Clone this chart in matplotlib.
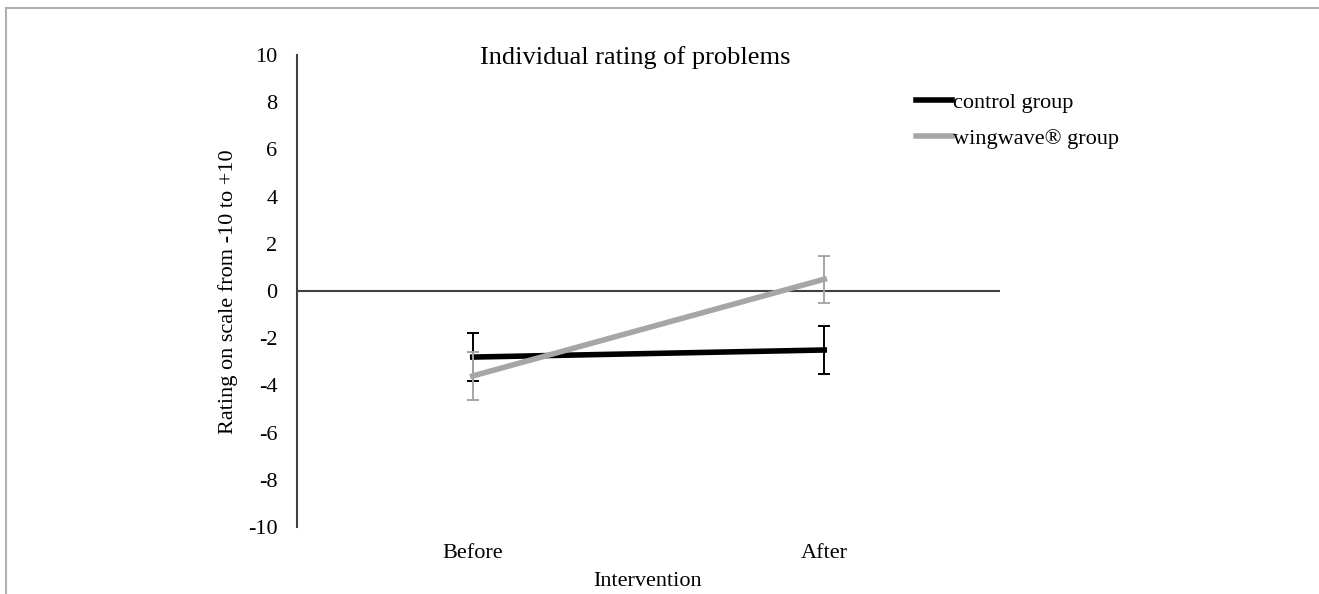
import numpy as np
import matplotlib.pyplot as plt
from matplotlib.lines import Line2D

plt.rcParams['font.family'] = ['Liberation Serif', 'DejaVu Serif']

categories = ['Before', 'After']
control = [-2.8, -2.5]
control_err = [1.0, 1.0]
wingwave = [-3.6, 0.5]
wingwave_err = [1.0, 1.0]
yticks = np.arange(-10, 11, 2)

fig = plt.figure(figsize=(13.19, 5.94), dpi=100)
ax = fig.add_axes([297/1319, 1 - 527/594, 703/1319, 472/594])

x = np.arange(len(categories))
ax.errorbar(x, control, yerr=control_err, color='black', lw=4, elinewidth=1.4,
            capsize=4, capthick=1.4, label='control group', zorder=3)
ax.errorbar(x, wingwave, yerr=wingwave_err, color='#a6a6a6', lw=4, elinewidth=1.4,
            capsize=4, capthick=1.4, label='wingwave® group', zorder=4)

ax.set_xlim(-0.5, 1.5)
ax.set_ylim(-10, 10)
ax.set_yticks(yticks)
ax.set_yticklabels([str(v) for v in yticks], fontsize=16)
ax.set_xticks(x)
ax.set_xticklabels(categories, fontsize=16)
ax.tick_params(axis='both', length=0)
ax.tick_params(axis='y', pad=14)
ax.tick_params(axis='x', pad=0)
for s in ['top', 'right', 'bottom']:
    ax.spines[s].set_visible(False)
ax.spines['left'].set_color('#404040')
ax.spines['left'].set_linewidth(1.5)
ax.axhline(0, color='#404040', lw=1.5, zorder=2)

# move category labels below the plot
for lbl in ax.get_xticklabels():
    lbl.set_y(-0.035)

fig.text(228/1319, 1 - 292/594, 'Rating on scale from -10 to +10', fontsize=16,
         rotation=90, ha='center', va='center')
fig.text(648/1319, 1 - 582/594, 'Intervention', fontsize=16, ha='center', va='center')
fig.text(635/1319, 1 - 58/594, 'Individual rating of problems', fontsize=19,
         ha='center', va='center')

handles, labels = ax.get_legend_handles_labels()
handles = [Line2D([], [], color='black', lw=4), Line2D([], [], color='#a6a6a6', lw=4)]
ax.legend(handles, labels, loc='upper left', bbox_to_anchor=(916/1319, 1 - 92/594),
          bbox_transform=fig.transFigure, frameon=False, fontsize=16,
          handlelength=1.6, handletextpad=0.05, labelspacing=0.7, borderaxespad=0,
          borderpad=0)

# light frame at top and left
fig.add_artist(Line2D([6/1319, 1], [1 - 8/594, 1 - 8/594], transform=fig.transFigure,
                      color='#b0b0b0', lw=1.5))
fig.add_artist(Line2D([6/1319, 6/1319], [0, 1 - 8/594], transform=fig.transFigure,
                      color='#b0b0b0', lw=1.5))

fig.savefig('out.png', dpi=100)
